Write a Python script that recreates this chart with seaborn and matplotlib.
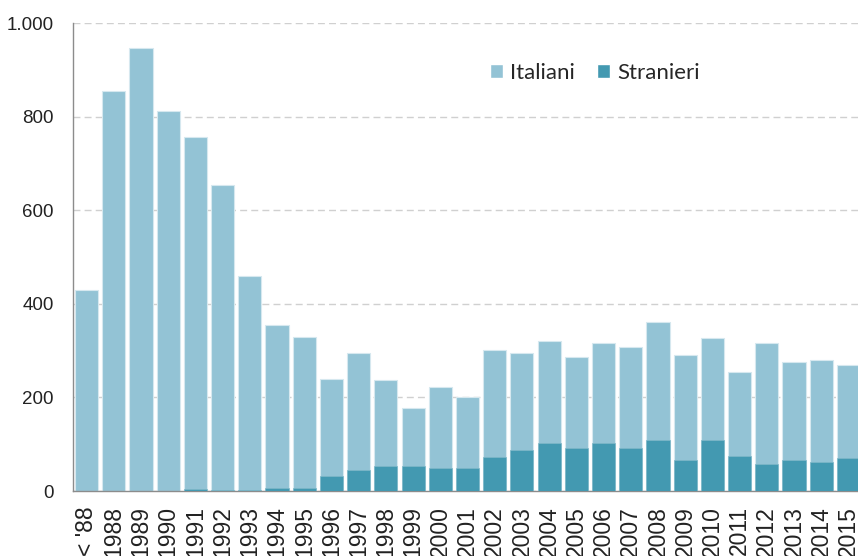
import pandas as pd
import matplotlib.pyplot as plt
import numpy as np
import seaborn as sns
from matplotlib.ticker import FuncFormatter
from matplotlib.patches import Patch

# dati
anni = ["< '88", "1988", "1989", "1990", "1991", "1992", "1993", "1994", "1995",
        "1996", "1997", "1998", "1999", "2000", "2001", "2002", "2003", "2004",
        "2005", "2006", "2007", "2008", "2009", "2010", "2011", "2012", "2013",
        "2014", "2015"]
italiani = [429, 855, 946, 812, 751, 651, 457, 349, 323, 208, 250, 184, 125, 174,
            151, 229, 208, 217, 194, 213, 216, 252, 225, 218, 180, 258, 210, 218, 199]
stranieri = [0, 0, 0, 0, 5, 2, 2, 6, 6, 31, 45, 53, 53, 49, 49, 72, 87, 103, 92,
             103, 92, 109, 66, 109, 74, 58, 66, 62, 70]

c_ita = "#93c3d5"
c_str = "#4399b1"

df = pd.DataFrame({"anno": anni, "Italiani": italiani, "Stranieri": stranieri})
df["totale"] = df["Italiani"] + df["Stranieri"]

sns.set_style("white")
plt.rcParams['font.family'] = ['Liberation Sans', 'DejaVu Sans']

fig = plt.figure(figsize=(8.58, 5.56), dpi=100)
ax = fig.add_axes([73 / 858, 65 / 556, 789 / 858, 468 / 556])

# totale (chiaro) sotto, stranieri (scuro) sopra
sns.barplot(data=df, x="anno", y="totale", color=c_ita, saturation=1, width=0.85,
            edgecolor="#d6e8ef", linewidth=0.8, ax=ax, zorder=2)
sns.barplot(data=df, x="anno", y="Stranieri", color=c_str, saturation=1, width=0.85,
            edgecolor="#7fb8c9", linewidth=0.5, ax=ax, zorder=3)

ax.set_ylim(0, 1000)
ax.set_xlim(-0.5, 28.5)
ax.set_yticks(np.arange(0, 1001, 200))
ax.yaxis.set_major_formatter(FuncFormatter(lambda v, p: f"{int(v):,}".replace(",", ".")))
ax.yaxis.grid(True, linestyle=(0, (5, 3)), color="#d0d0d0", linewidth=1, zorder=0)
ax.set_axisbelow(True)

ax.set_xticks(np.arange(len(anni)))
ax.set_xticklabels(anni, rotation=90, fontsize=16.5, color="#222222", va="top")
ax.set_xticks(np.arange(-0.5, len(anni), 1), minor=True)
ax.tick_params(axis="x", which="major", length=0, pad=11)
ax.tick_params(axis="x", which="minor", length=8, color="#8c8c8c", width=1)
ax.tick_params(axis="y", length=5, color="#8c8c8c", width=1, labelsize=13.5,
               labelcolor="#222222", pad=9)

ax.set_xlabel("")
ax.set_ylabel("")
for s in ["top", "right"]:
    ax.spines[s].set_visible(False)
for s in ["left", "bottom"]:
    ax.spines[s].set_color("#8c8c8c")
    ax.spines[s].set_linewidth(1)

handles = [Patch(facecolor=c_ita, label="Italiani"), Patch(facecolor=c_str, label="Stranieri")]
fig.legend(handles=handles, loc="center", bbox_to_anchor=(0.693, 0.869), ncol=2,
           frameon=False, prop={"family": "Lato", "size": 16}, handlelength=0.6,
           handleheight=0.6, handletextpad=0.3, columnspacing=1.0)

plt.savefig("out.png", dpi=100)
